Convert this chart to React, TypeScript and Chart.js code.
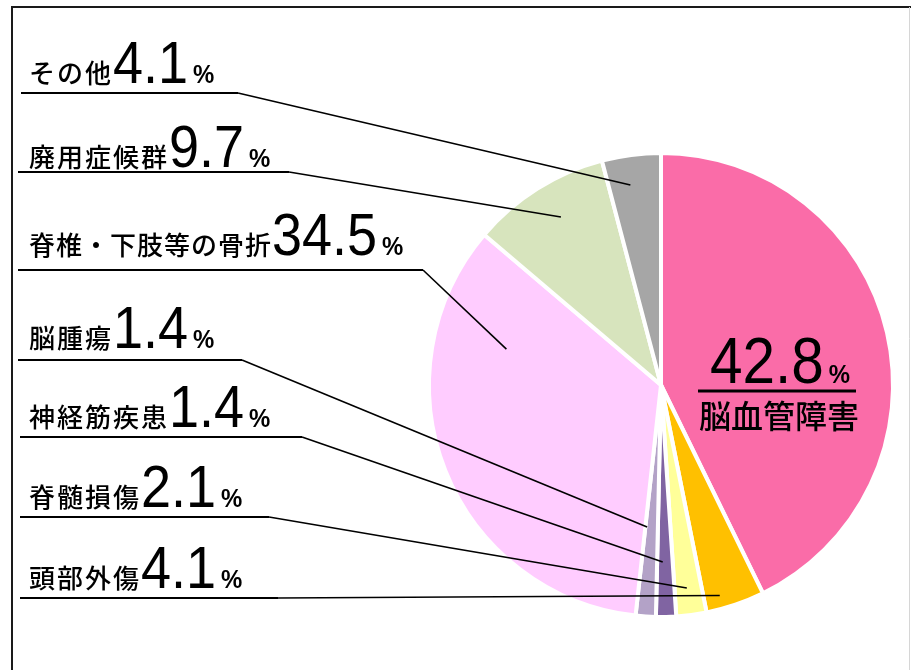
import { useEffect, useRef } from 'react';
import { Chart, registerables } from 'chart.js';

Chart.register(...registerables);

// ---- data ----
const categories = ['脳血管障害', '頭部外傷', '脊髄損傷', '神経筋疾患', '脳腫瘍', '脊椎・下肢等の骨折', '廃用症候群', 'その他'];
const values = [42.8, 4.1, 2.1, 1.4, 1.4, 34.5, 9.7, 4.1];
const percentSign = '%';

// ---- style ----
const colors = ['#FA6CA8', '#FFC000', '#FFFF99', '#8064A2', '#B3A2C7', '#FFCCFF', '#D7E4BD', '#A6A6A6'];

// callout layout (positions only) – anchor within slice given by angular fraction t and radius fraction rf
const callouts = [
  { idx: 7, baseline: 83, lineY: 93, lineX0: 21, lineX1: 238, t: 0.41, rf: 0.88, ls: 2 },
  { idx: 6, baseline: 167, lineY: 172, lineX0: 18, lineX1: 289, t: 0.54, rf: 0.85, ls: 2 },
  { idx: 5, baseline: 255, lineY: 270, lineX0: 18, lineX1: 423, t: 0.78, rf: 0.69, ls: 1 },
  { idx: 4, baseline: 348, lineY: 360, lineX0: 18, lineX1: 242, t: 0.86, rf: 0.62, ls: 2 },
  { idx: 3, baseline: 427, lineY: 437, lineX0: 20, lineX1: 302, t: 0.64, rf: 0.77, ls: 2 },
  { idx: 2, baseline: 507, lineY: 517, lineX0: 20, lineX1: 269, t: 0.54, rf: 0.89, ls: 2 },
  { idx: 1, baseline: 588, lineY: 598, lineX0: 20, lineX1: 278, t: 0.71, rf: 0.95, ls: 2 },
];

const JP_FONT = '"Noto Sans CJK JP", "Noto Sans", sans-serif';
const NUM_FONT = '"Liberation Sans", Arial, sans-serif';

function drawScaled(ctx: CanvasRenderingContext2D, text: string, x: number, y: number, sx: number) {
  ctx.save();
  ctx.translate(x, y);
  ctx.scale(sx, 1);
  ctx.fillText(text, 0, 0);
  ctx.restore();
  return ctx.measureText(text).width * sx;
}

const calloutPlugin = {
  id: 'callouts',
  afterDraw(chart: any) {
    const ctx: CanvasRenderingContext2D = chart.ctx;
    const meta = chart.getDatasetMeta(0);
    ctx.save();

    // frame
    ctx.strokeStyle = '#1a1a1a';
    ctx.lineWidth = 2;
    ctx.beginPath();
    ctx.moveTo(12, 670);
    ctx.lineTo(12, 7);
    ctx.lineTo(911, 7);
    ctx.stroke();
    ctx.strokeStyle = '#d6d6d6';
    ctx.lineWidth = 1;
    ctx.beginPath();
    ctx.moveTo(909.5, 7);
    ctx.lineTo(909.5, 670);
    ctx.stroke();

    ctx.fillStyle = '#000';
    ctx.textBaseline = 'alphabetic';
    ctx.textAlign = 'left';

    for (const c of callouts) {
      const arc = meta.data[c.idx];
      const p = arc.getProps(['x', 'y', 'startAngle', 'endAngle', 'outerRadius'], true);
      const a = p.startAngle + c.t * (p.endAngle - p.startAngle);
      const r = c.rf * (p.outerRadius - 2);
      const px = p.x + Math.cos(a) * r;
      const py = p.y + Math.sin(a) * r;

      ctx.strokeStyle = '#000';
      ctx.lineWidth = 2;
      ctx.beginPath();
      ctx.moveTo(c.lineX0, c.lineY);
      ctx.lineTo(c.lineX1, c.lineY);
      ctx.stroke();
      ctx.lineWidth = 1.6;
      ctx.beginPath();
      ctx.moveTo(c.lineX1, c.lineY);
      ctx.lineTo(px, py);
      ctx.stroke();

      // text
      let x = 29;
      ctx.font = `500 26px ${JP_FONT}`;
      (ctx as any).letterSpacing = `${c.ls}px`;
      const name = categories[c.idx];
      ctx.fillText(name, x, c.baseline);
      x += ctx.measureText(name).width;
      (ctx as any).letterSpacing = '0px';
      ctx.font = `60px ${NUM_FONT}`;
      const num = values[c.idx].toFixed(1);
      x += drawScaled(ctx, num, x, c.baseline, 0.9) + 5;
      ctx.font = `bold 26px ${NUM_FONT}`;
      drawScaled(ctx, percentSign, x, c.baseline, 0.92);
    }

    // main label inside the largest slice
    const main = meta.data[0].getProps(['x', 'y'], true);
    const cx = main.x;
    const cy = main.y;
    ctx.font = `65px ${NUM_FONT}`;
    const mainNum = values[0].toFixed(1);
    const w = drawScaled(ctx, mainNum, cx + 49, cy - 2, 0.9);
    ctx.font = `bold 26px ${NUM_FONT}`;
    drawScaled(ctx, percentSign, cx + 49 + w + 5, cy - 2, 0.92);
    ctx.lineWidth = 3;
    ctx.beginPath();
    ctx.moveTo(cx + 37, cy + 6);
    ctx.lineTo(cx + 195, cy + 6);
    ctx.stroke();
    ctx.font = `500 32px ${JP_FONT}`;
    ctx.fillText(categories[0], cx + 38, cy + 43);

    ctx.restore();
  },
};

export default function App() {
  const ref = useRef<HTMLCanvasElement | null>(null);
  useEffect(() => {
    if (!ref.current) return;
    const chart = new Chart(ref.current, {
      type: 'pie',
      data: {
        labels: categories,
        datasets: [
          {
            data: values,
            backgroundColor: colors,
            borderColor: '#ffffff',
            borderWidth: 4,
          },
        ],
      },
      options: {
        responsive: false,
        animation: false,
        devicePixelRatio: 1,
        layout: { padding: { left: 427, right: 16, top: 151, bottom: 51 } },
        plugins: {
          legend: { display: false },
          tooltip: { enabled: false },
          title: { display: false },
        },
      },
      plugins: [calloutPlugin],
    });
    return () => chart.destroy();
  }, []);
  return (
    <div style={{ position: 'fixed', left: 0, top: 0, width: 911, height: 670, background: '#fff' }}>
      <canvas ref={ref} width={911} height={670} style={{ display: 'block' }} />
    </div>
  );
}
